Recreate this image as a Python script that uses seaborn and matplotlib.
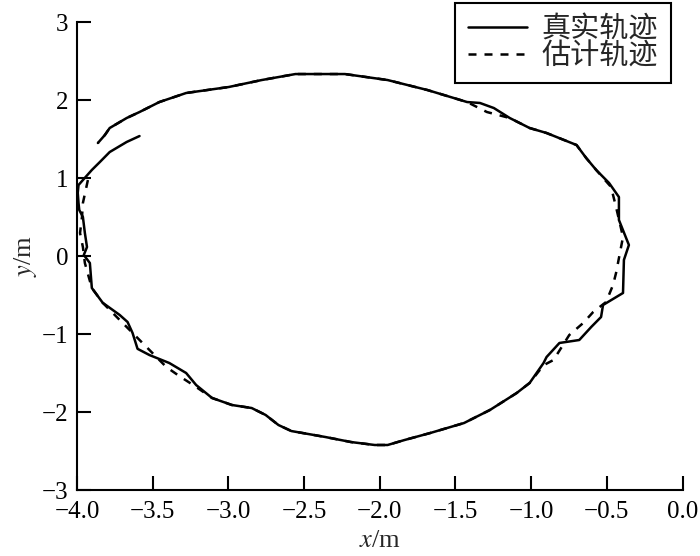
import numpy as np
import pandas as pd
import seaborn as sns
import matplotlib
matplotlib.use("Agg")
from matplotlib import pyplot as plt

# true trajectory
true_x = [-3.587, -3.672, -3.784, -3.849, -3.902, -3.961, -3.99, -3.995, -3.99, -3.985,
          -3.961, -3.948, -3.934, -3.955, -3.915, -3.902, -3.83, -3.718, -3.666, -3.633,
          -3.6, -3.521, -3.39, -3.279, -3.213, -3.108, -2.977, -2.846, -2.754, -2.669,
          -2.584, -2.361, -2.19, -2.033, -1.948, -1.836, -1.666, -1.443, -1.272, -1.095,
          -1.01, -0.918, -0.898, -0.813, -0.682, -0.603, -0.538, -0.525, -0.393, -0.387,
          -0.354, -0.420, -0.420, -0.485, -0.570, -0.636, -0.70, -0.898, -1.01, -1.141,
          -1.246, -1.338, -1.423, -1.685, -1.948, -2.23, -2.557, -2.78, -2.997, -3.279,
          -3.456, -3.587, -3.672, -3.784, -3.816, -3.862]
true_y = [1.538, 1.462, 1.333, 1.205, 1.103, 0.974, 0.91, 0.81, 0.68, 0.59,
          0.50, 0.295, 0.115, 0.013, -0.09, -0.41, -0.60, -0.756, -0.846, -0.987,
          -1.19, -1.27, -1.372, -1.50, -1.654, -1.82, -1.91, -1.949, -2.038, -2.167,
          -2.244, -2.32, -2.385, -2.423, -2.423, -2.359, -2.269, -2.141, -1.974, -1.756,
          -1.628, -1.372, -1.295, -1.115, -1.077, -0.91, -0.782, -0.628, -0.474, -0.05,
          0.141, 0.462, 0.756, 0.936, 1.103, 1.256, 1.423, 1.577, 1.641, 1.769,
          1.897, 1.962, 1.974, 2.128, 2.256, 2.333, 2.333, 2.256, 2.167, 2.09,
          1.974, 1.846, 1.769, 1.641, 1.551, 1.449]

# estimated trajectory
est_x = [-3.928, -3.961, -3.967, -3.98, -3.961, -3.948, -3.902, -3.83, -3.718, -3.652,
         -3.554, -3.41, -3.325, -3.213, -3.108, -2.977, -2.846, -2.754, -2.669, -2.584,
         -2.361, -2.19, -2.033, -1.948, -1.836, -1.666, -1.443, -1.272, -1.095, -1.01,
         -0.918, -0.852, -0.748, -0.656, -0.59, -0.505, -0.459, -0.439, -0.393, -0.439,
         -0.472, -0.570, -0.636, -0.70, -0.898, -1.01, -1.141, -1.292, -1.423, -1.685,
         -1.948, -2.23, -2.557, -2.78, -2.997, -3.279, -3.456, -3.587, -3.672, -3.784,
         -3.816, -3.862]
est_y = [0.974, 0.68, 0.50, 0.295, 0.115, -0.09, -0.41, -0.60, -0.82, -0.949,
         -1.141, -1.423, -1.538, -1.679, -1.82, -1.91, -1.949, -2.038, -2.167, -2.244,
         -2.32, -2.385, -2.423, -2.423, -2.359, -2.269, -2.141, -1.974, -1.756, -1.628,
         -1.40, -1.333, -1.013, -0.859, -0.718, -0.59, -0.372, -0.218, 0.244, 0.628,
         0.885, 1.103, 1.256, 1.423, 1.577, 1.641, 1.769, 1.846, 1.974, 2.128,
         2.256, 2.333, 2.333, 2.256, 2.167, 2.09, 1.974, 1.846, 1.769, 1.641,
         1.551, 1.449]

labels = ["真实轨迹", "估计轨迹"]
xticks = np.arange(-4, 0.01, 0.5)
yticks = np.arange(-3, 3.1, 1)

df = pd.concat([
    pd.DataFrame({"x": true_x, "y": true_y, "traj": labels[0]}),
    pd.DataFrame({"x": est_x, "y": est_y, "traj": labels[1]}),
], ignore_index=True)

sns.set_theme(style="ticks")
plt.rcParams["font.family"] = ["Liberation Serif", "Noto Sans CJK SC"]
plt.rcParams["mathtext.fontset"] = "stix"

fig, ax = plt.subplots(figsize=(7, 5.56), dpi=100)
fig.subplots_adjust(left=0.11, right=0.975, bottom=0.1187, top=0.9604)

sns.lineplot(data=df, x="x", y="y", style="traj", style_order=labels,
             dashes={labels[0]: "", labels[1]: (3.2, 3.2)},
             sort=False, estimator=None, color="black", linewidth=1.8, ax=ax)

ax.set_xlim(-4, 0)
ax.set_ylim(-3, 3)
ax.set_xticks(xticks)
ax.set_yticks(yticks)
ax.set_xticklabels([f"{v:.1f}".replace("-", "\u2212") for v in xticks])
ax.set_yticklabels([f"{int(v)}".replace("-", "\u2212") for v in yticks])
ax.tick_params(direction="in", length=10, width=1.5, labelsize=18, colors="black")
ax.tick_params(axis="x", pad=8)
ax.tick_params(axis="y", pad=6)
sns.despine(ax=ax)
for s in ["left", "bottom"]:
    ax.spines[s].set_linewidth(1.5)
    ax.spines[s].set_color("black")

ax.set_xlabel("$x$/m", fontsize=19, labelpad=5)
ax.set_ylabel("$y$/m", fontsize=19, labelpad=2)

handles, lbls = ax.get_legend_handles_labels()
leg = ax.legend(handles, lbls, loc="upper right", bbox_to_anchor=(0.9586, 0.9946),
                bbox_transform=fig.transFigure, borderaxespad=0, fontsize=21,
                frameon=True, fancybox=False, edgecolor="black", framealpha=1,
                handlelength=2.0, labelspacing=0.0, borderpad=0.45, handletextpad=0.5)
leg.get_frame().set_linewidth(1.5)

fig.savefig("out.png", dpi=100)
